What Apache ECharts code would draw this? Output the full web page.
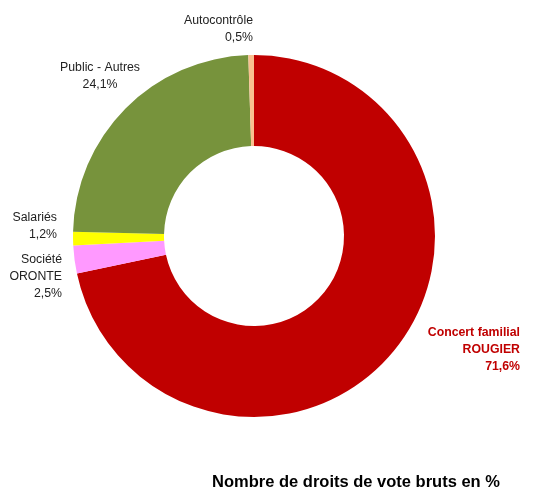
<!DOCTYPE html>
<html><head><meta charset="utf-8">
<script src="https://cdn.jsdelivr.net/npm/echarts@6/dist/echarts.min.js"></script>
<style>html,body{margin:0;padding:0;background:#fff}#c{width:541px;height:491px}</style>
</head><body><div id="c"></div>
<script>
var categories = ['Concert familial\nROUGIER', 'Société\nORONTE', 'Salariés', 'Public - Autres', 'Autocontrôle'];
var values = [71.6, 2.5, 1.2, 24.1, 0.5];
var valueLabels = ['71,6%', '2,5%', '1,2%', '24,1%', '0,5%'];
var colors = ['#C00000', '#FF99FF', '#FFFF00', '#77933C', '#FAC090'];
var titleText = 'Nombre de droits de vote bruts en %';

var FONT = '"Liberation Sans Narrow", "Arial Narrow", "Liberation Sans", Arial, sans-serif';
// label anchor: [x, y(top), align]
var labelPos = [
  [520, 324, 'right'],
  [62, 251, 'right'],
  [57, 209, 'right'],
  [100, 59, 'center'],
  [253, 12, 'right']
];

var chart = echarts.init(document.getElementById('c'), null, {renderer: 'canvas'});
chart.setOption({
  animation: false,
  title: {
    text: titleText, left: 351, top: 469, textAlign: 'center',
    textStyle: {fontFamily: FONT, fontWeight: 'bold', fontSize: 16.5, color: '#000'}
  },
  series: [{
    type: 'pie',
    center: [254, 236],
    radius: [90, 181],
    startAngle: 90,
    clockwise: true,
    avoidLabelOverlap: false,
    data: categories.map(function (c, i) {
      return {
        name: c, value: values[i],
        itemStyle: {color: colors[i]},
        label: i === 0 ? {color: '#C00000', fontWeight: 'bold'} : {}
      };
    }),
    label: {
      show: true,
      position: 'outside',
      fontFamily: FONT,
      fontSize: 12.3,
      lineHeight: 17,
      color: '#222',
      formatter: function (p) { return p.name + '\n' + valueLabels[p.dataIndex]; }
    },
    labelLine: {show: false},
    labelLayout: function (p) {
      var lp = labelPos[p.dataIndex];
      return {x: lp[0], y: lp[1], align: lp[2], verticalAlign: 'top'};
    }
  }]
});
</script></body></html>
